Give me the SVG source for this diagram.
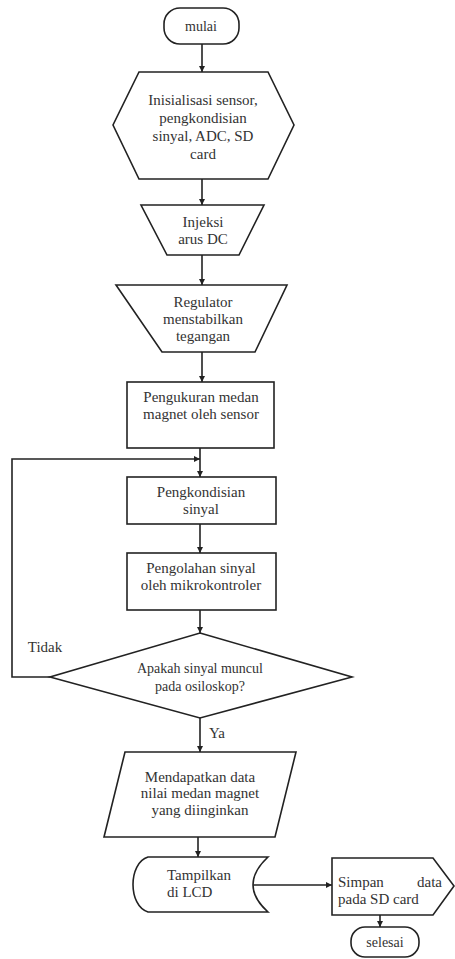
<svg xmlns="http://www.w3.org/2000/svg" width="455" height="959" viewBox="0 0 455 959" font-family="'Liberation Serif', 'DejaVu Serif', serif">
<defs>
<style>
.s{fill:#fff;stroke:#222;stroke-width:1.6}
.c{fill:none;stroke:#222;stroke-width:1.6}
text{font-family:'Liberation Serif','DejaVu Serif',serif;font-size:15px;fill:#333;text-anchor:middle}
.sm{font-size:14px}
.l{text-anchor:start}
</style>
<marker id="a" markerWidth="6" markerHeight="6" refX="6" refY="3" orient="auto" markerUnits="userSpaceOnUse">
<path d="M0,0 L6,3 L0,6 Z" fill="#222"/>
</marker>
</defs>
<rect width="455" height="959" fill="#fff"/>
<g id="connectors">
<line class="c" x1="202" y1="44" x2="202" y2="72" marker-end="url(#a)"/>
<line class="c" x1="202" y1="179" x2="202" y2="205" marker-end="url(#a)"/>
<line class="c" x1="202" y1="255" x2="202" y2="285" marker-end="url(#a)"/>
<line class="c" x1="202" y1="352" x2="202" y2="382" marker-end="url(#a)"/>
<line class="c" x1="200" y1="448" x2="200" y2="477" marker-end="url(#a)"/>
<polyline class="c" points="50,677 12,677 12,459 200,459" marker-end="url(#a)"/>
<line class="c" x1="200" y1="524" x2="200" y2="553" marker-end="url(#a)"/>
<line class="c" x1="200" y1="610" x2="200" y2="633" marker-end="url(#a)"/>
<line class="c" x1="200" y1="718" x2="200" y2="752" marker-end="url(#a)"/>
<line class="c" x1="198" y1="837" x2="198" y2="857" marker-end="url(#a)"/>
<line class="c" x1="245" y1="885" x2="332" y2="885" marker-end="url(#a)"/>
<line class="c" x1="380" y1="915" x2="380" y2="927" marker-end="url(#a)"/>
<text x="45" y="652">Tidak</text>
<text class="l" x="209" y="738">Ya</text>
</g>
<g id="mulai">
<rect class="s" x="164" y="8" width="75" height="36" rx="16"/>
<text class="sm" x="201" y="31">mulai</text>
</g>
<g id="inisialisasi">
<polygon class="s" points="139,72 268,72 294,125 268,179 139,179 113,125"/>
<text x="203" y="105">Inisialisasi sensor,</text>
<text x="203" y="123">pengkondisian</text>
<text x="203" y="141">sinyal, ADC, SD</text>
<text x="203" y="159">card</text>
</g>
<g id="injeksi">
<polygon class="s" points="141,205 264,205 239,255 167,255"/>
<text x="203" y="227">Injeksi</text>
<text x="203" y="244">arus DC</text>
</g>
<g id="regulator">
<polygon class="s" points="116,285 287,285 255,352 162,352"/>
<text x="203" y="307">Regulator</text>
<text x="203" y="324">menstabilkan</text>
<text x="203" y="341">tegangan</text>
</g>
<g id="pengukuran">
<rect class="s" x="127" y="382" width="147" height="66"/>
<text x="201" y="402">Pengukuran medan</text>
<text x="201" y="419">magnet oleh sensor</text>
</g>
<g id="pengkondisian">
<rect class="s" x="127" y="477" width="149" height="47"/>
<text x="201" y="497">Pengkondisian</text>
<text x="201" y="514">sinyal</text>
</g>
<g id="pengolahan">
<rect class="s" x="127" y="553" width="149" height="57"/>
<text x="201" y="573">Pengolahan sinyal</text>
<text x="201" y="590">oleh mikrokontroler</text>
</g>
<g id="keputusan">
<polygon class="s" points="200,633 352,677 200,718 50,677"/>
<text class="sm" x="200" y="673">Apakah sinyal muncul</text>
<text class="sm" x="200" y="691">pada osiloskop?</text>
</g>
<g id="mendapatkan">
<polygon class="s" points="125,752 296,752 275,837 104,837"/>
<text x="200" y="782">Mendapatkan data</text>
<text x="200" y="798">nilai medan magnet</text>
<text x="200" y="815">yang diinginkan</text>
</g>
<g id="tampilkan">
<path class="s" d="M148,857 L268,857 Q238,885 268,912 L148,912 C128,906 128,863 148,857 Z"/>
<text class="l" x="167" y="880">Tampilkan</text>
<text class="l" x="167" y="897">di LCD</text>
</g>
<g id="simpan">
<polygon class="s" points="332,858 433,858 454,886 433,915 332,915"/>
<text class="l" x="338" y="887">Simpan</text>
<text class="l" x="417" y="887">data</text>
<text class="l" x="338" y="904">pada SD card</text>
</g>
<g id="selesai">
<rect class="s" x="351" y="927" width="68" height="30" rx="14"/>
<text class="sm" x="385" y="947">selesai</text>
</g>
</svg>
